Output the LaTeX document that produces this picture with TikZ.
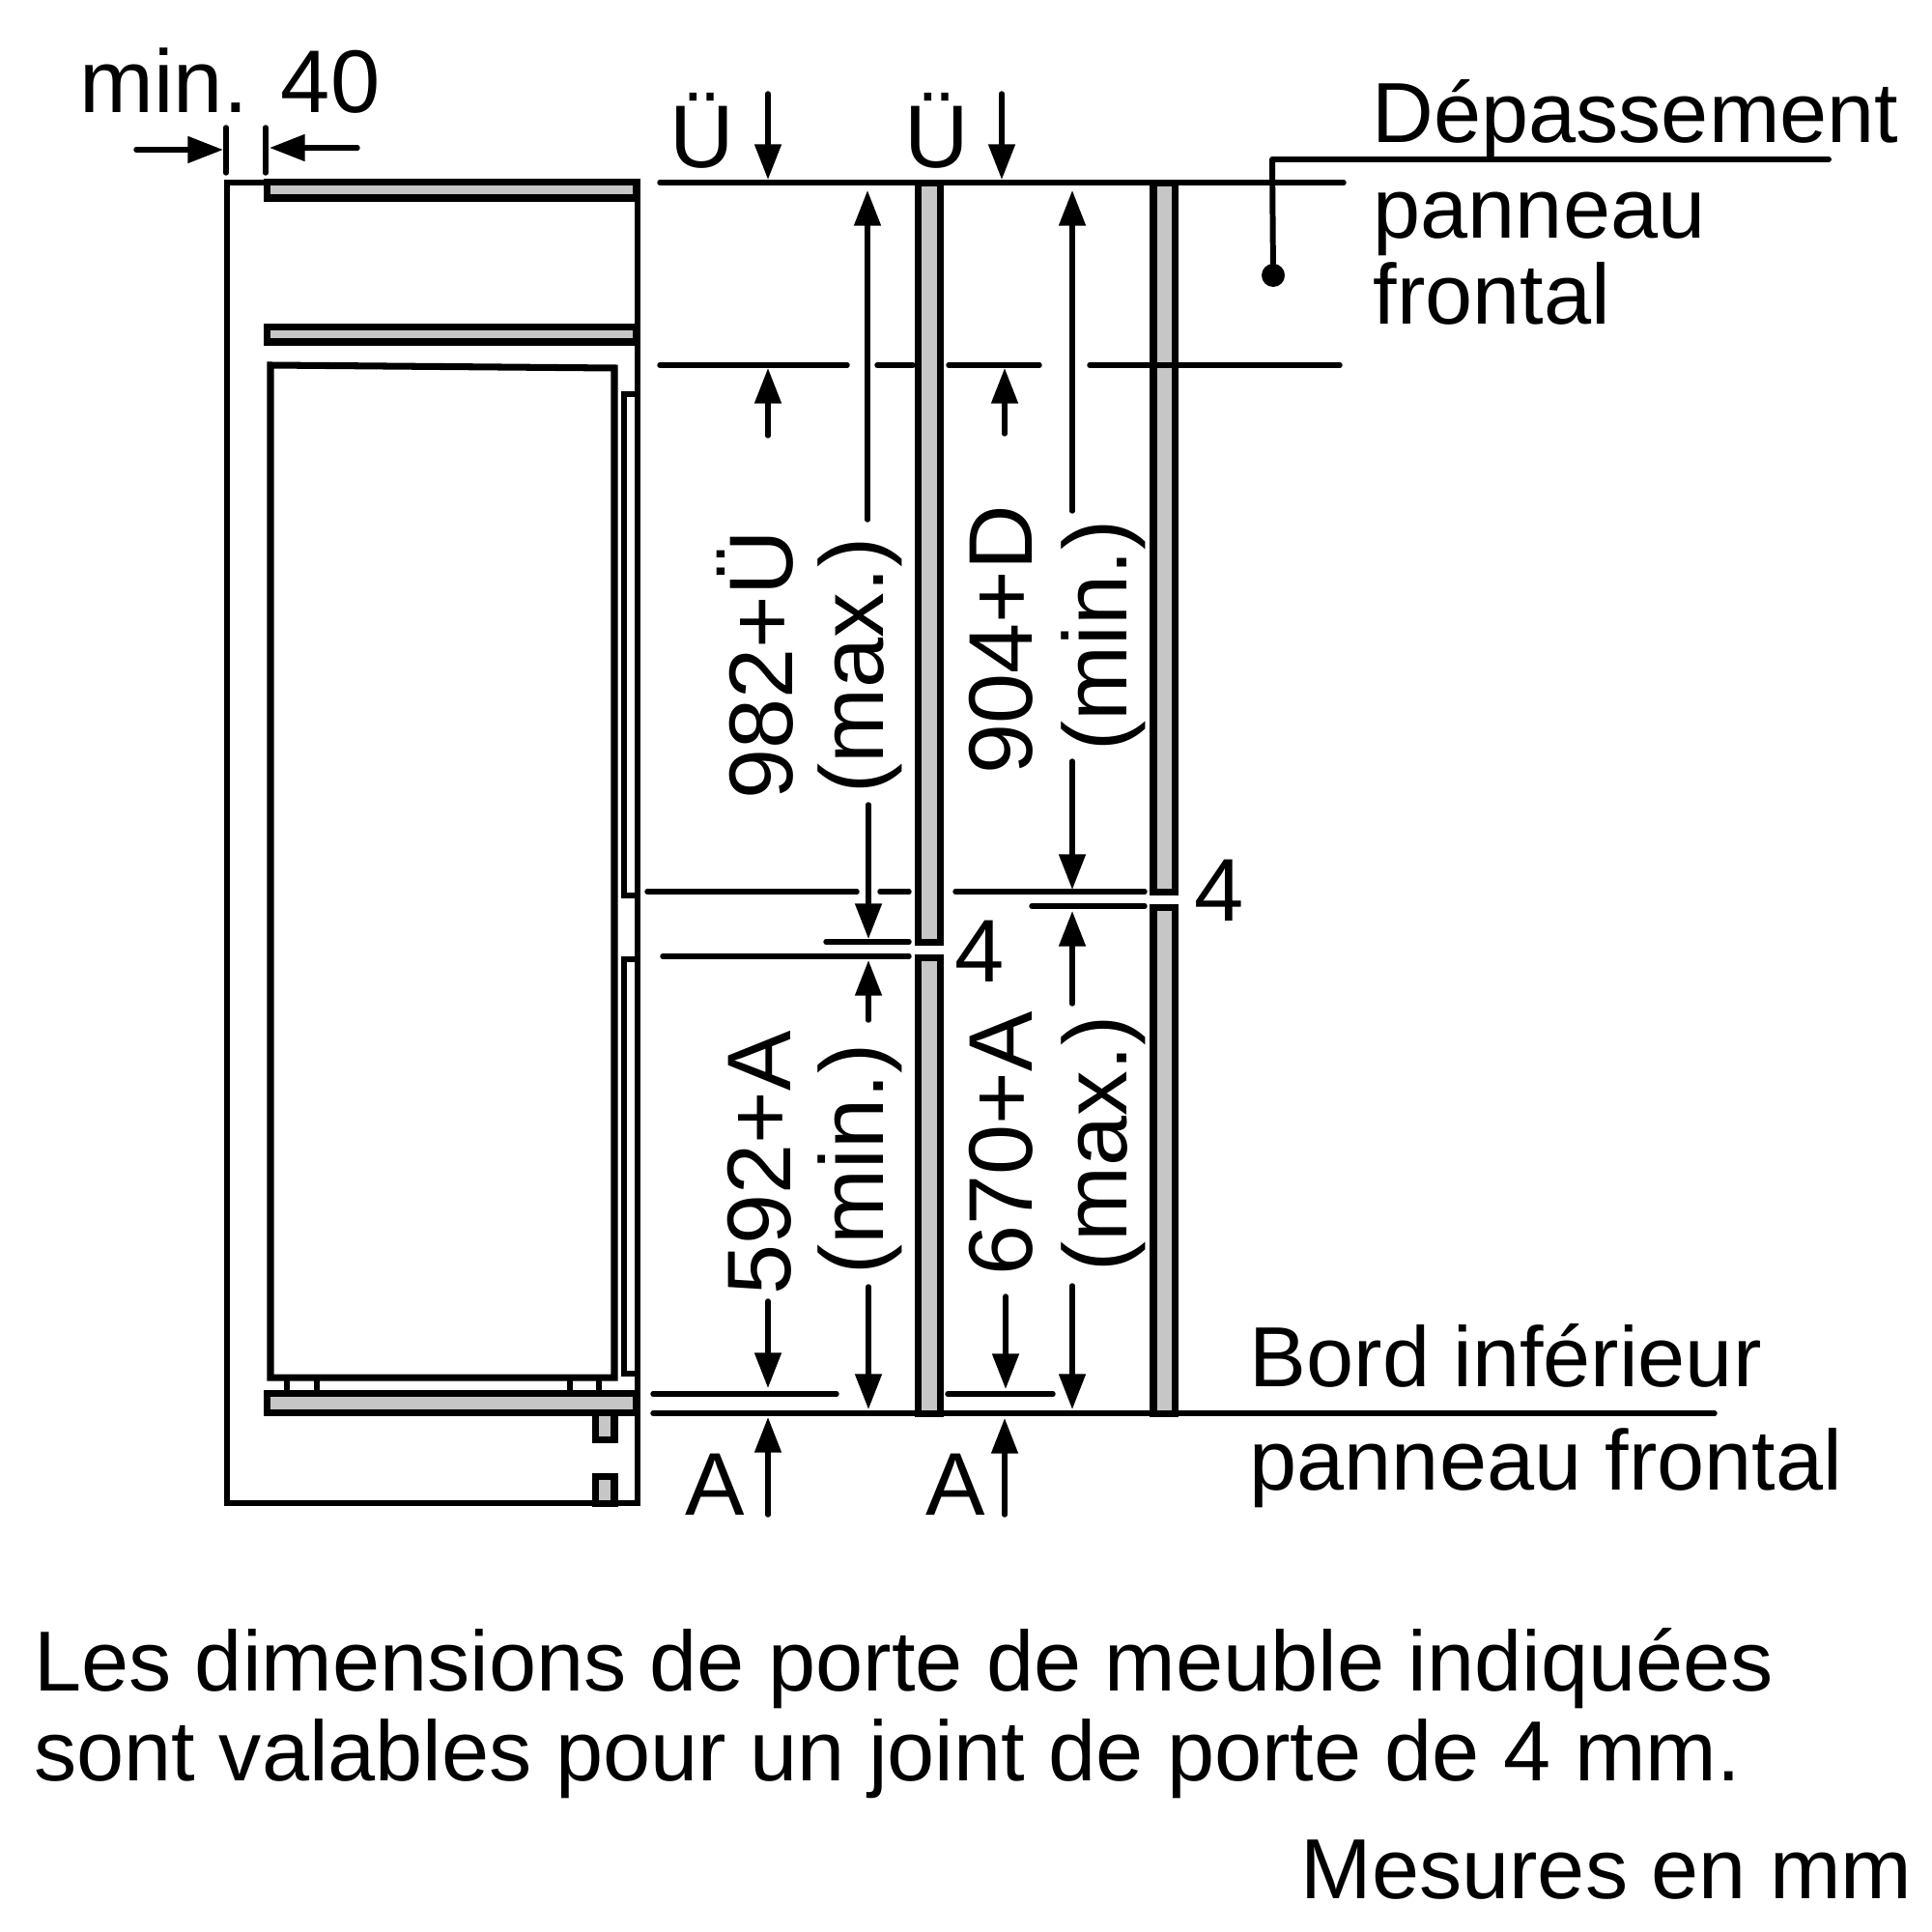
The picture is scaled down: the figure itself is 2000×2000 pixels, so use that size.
\documentclass[tikz,border=0pt]{standalone}
\usepackage{fontspec}
\setmainfont{Liberation Sans}
\usetikzlibrary{arrows.meta}
\definecolor{panelgray}{HTML}{C6C6C6}
\tikzset{
  px/.style={x=0.01cm,y=-0.01cm},
  dim/.style={line width=1.55pt,line cap=round},
  dimarrow/.style={line width=1.55pt,line cap=round,-{Triangle[length=10.4pt,width=7.6pt]}},
  cab/.style={line width=1.6pt,line cap=butt,line join=miter},
  inner box/.style={line width=2pt,line join=miter},
  panel/.style={draw=black,fill=panelgray,line width=2pt,line join=miter},
  door/.style={draw=black,fill=panelgray,line width=2.1pt,line join=miter},
  lab/.style={inner sep=0pt,anchor=base west,font=\fontsize{25.1}{30}\selectfont},
  biglab/.style={inner sep=0pt,anchor=base west,font=\fontsize{26.2}{30}\selectfont},
  vlab/.style={inner sep=0pt,rotate=90,anchor=base,font=\fontsize{26.6}{30}\selectfont}
}
\begin{document}
\begin{tikzpicture}[px]
\useasboundingbox (0,0) rectangle (2000,2000);
\fill[white] (0,0) rectangle (2000,2000);
% cabinet outline
\draw[cab] (275,189) -- (235,189) -- (235,1556) -- (660,1556) -- (660,189);
\draw[inner box] (280,378) -- (636,381) -- (636,1426) -- (280,1426) -- cycle;
% door strips
\draw[line width=1.85pt,line join=miter] (660,408) -- (646,408) -- (646,927) -- (660,927);
\draw[line width=1.85pt,line join=miter] (660,993) -- (646,993) -- (646,1422) -- (660,1422);
\draw[line width=1.85pt] (660,400) -- (660,927) (660,993) -- (660,1442);
% feet
\foreach \fx in {297,328,590,620} \draw[line width=1.5pt] (\fx,1426) -- (\fx,1442);
% shelves
\path[panel] (276.5,188.5) rectangle (659,205);
\path[panel] (276.5,338.5) rectangle (659,354);
\path[panel] (276.5,1442.5) rectangle (659,1462);
\path[panel] (616.5,1462) rectangle (636,1490);
\path[panel] (616.5,1528) rectangle (636,1556);
% door panels
\path[door] (950.5,189.5) rectangle (973.5,975.5);
\path[door] (950.5,991.5) rectangle (973.5,1463.5);
\path[door] (1194,189.5) rectangle (1216.5,923.5);
\path[door] (1194,939.5) rectangle (1216.5,1463.5);
% dimension lines
\draw[dim] (683,189) -- (1391,189);
\draw[dim] (683,378) -- (877,378) (908,378) -- (945,378) (982,378) -- (1076,378) (1128,378) -- (1387,378);
\draw[dim] (670,923) -- (887,923) (911,923) -- (941,923) (989,923) -- (1185,923);
\draw[dim] (1068,938) -- (1185,938);
\draw[dim] (855,975) -- (941,975);
\draw[dim] (686,990) -- (941,990);
\draw[dim] (676,1443) -- (866,1443) (981,1443) -- (1090,1443);
\draw[dim] (676,1463) -- (1775,1463);
% leader
\coordinate (leadA) at (1893,165);
\coordinate (leadB) at (1317,165);
\coordinate (leadC) at (1318,285);
\draw[line width=1.7pt,line join=round,line cap=round] (leadA) -- (leadB) -- (leadC);
\fill (leadC) circle (12);
% top ticks
\draw[dim] (234,132) -- (234,179);
\draw[dim] (275,132) -- (275,179);
\draw[dimarrow] (141,155) -- (231,155);
\draw[dimarrow] (370,153) -- (279,153);
% arrows
\draw[dimarrow] (795,97) -- (795,186);
\draw[dimarrow] (1037,97) -- (1037,186);
\draw[dimarrow] (795,451) -- (795,381);
\draw[dimarrow] (1040,449) -- (1040,381);
\draw[dimarrow] (898,538) -- (898,197);
\draw[dimarrow] (1110,529) -- (1110,197);
\draw[dimarrow] (899,833) -- (899,972);
\draw[dimarrow] (1110,788) -- (1110,921);
\draw[dimarrow] (899,1056) -- (899,994);
\draw[dimarrow] (1110,1039) -- (1110,943);
\draw[dimarrow] (899,1332) -- (899,1459);
\draw[dimarrow] (1110,1331) -- (1110,1459);
\draw[dimarrow] (795,1347) -- (795,1437);
\draw[dimarrow] (1041,1342) -- (1041,1438);
\draw[dimarrow] (795,1568) -- (795,1467);
\draw[dimarrow] (1040,1568) -- (1040,1468);
% text
\node[biglab] (t1) at (82,117) {min. 40};
\node[biglab] (t2) at (693,173) {Ü};
\node[biglab] (t3) at (936,173) {Ü};
\node[lab] (t4) at (1420,148) {Dépassement};
\node[lab] (t5) at (1421,247) {panneau};
\node[lab] (t6) at (1421,335) {frontal};
\node[lab] (t7) at (1293,1435) {Bord inférieur};
\node[lab] (t8) at (1293,1542) {panneau frontal};
\node[biglab] (t9) at (709,1568) {A};
\node[biglab] (t10) at (958,1568) {A};
\node[biglab] (t11) at (988,1016) {4};
\node[biglab] (t12) at (1236,953) {4};
\node[lab] (t13) at (34.5,1750) {Les dimensions de porte de meuble indiquées};
\node[lab] (t14) at (35,1843) {sont valables pour un joint de porte de 4 mm.};
\node[lab] (t15) at (1346,1965) {Mesures en mm};
\node[vlab] (v1) at (820,688) {982+Ü};
\node[vlab] (v2) at (914,689) {(max.)};
\node[vlab] (v3) at (1068,662) {904+D};
\node[vlab] (v4) at (1166,658) {(min.)};
\node[vlab] (v5) at (818,1204) {592+A};
\node[vlab] (v6) at (914,1200) {(min.)};
\node[vlab] (v7) at (1068,1184) {670+A};
\node[vlab] (v8) at (1166,1184) {(max.)};
\end{tikzpicture}
\end{document}
